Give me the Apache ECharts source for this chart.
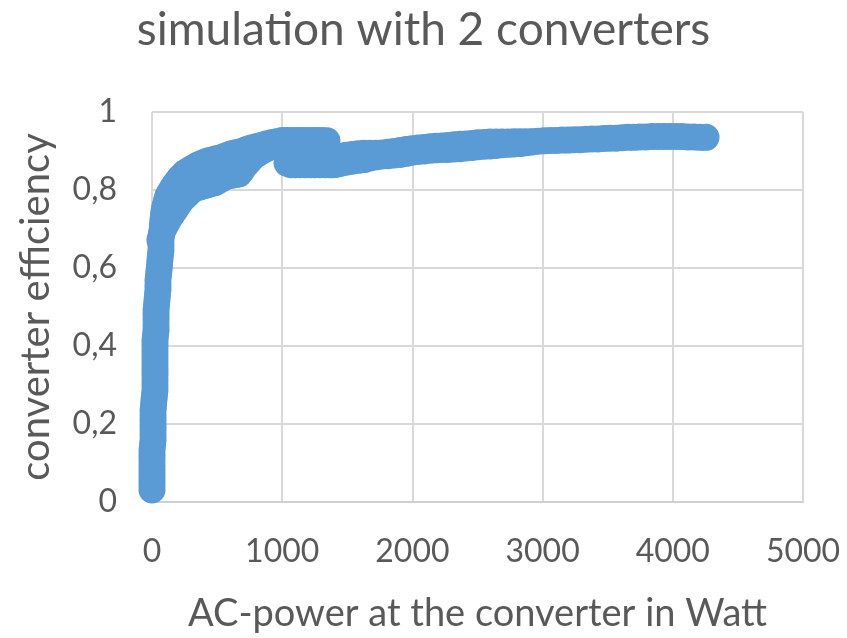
<!DOCTYPE html>
<html><head><meta charset="utf-8">
<script src="https://cdn.jsdelivr.net/npm/echarts@6/dist/echarts.min.js"></script>
<style>html,body{margin:0;padding:0;background:#fff}#chart{width:847px;height:638px}</style>
</head><body><div id="chart"></div>
<script>
// Chart text
const titleText = 'simulation with 2 converters';
const xAxisTitle = 'AC-power at the converter in Watt';
const yAxisTitle = 'converter efficiency';
const xTicks = [0, 1000, 2000, 3000, 4000, 5000];
const yTicks = [0, 0.2, 0.4, 0.6, 0.8, 1];

// [AC power (W), converter efficiency]
const startupPoints = [[0,0.031],[0,0.044],[0,0.056],[0,0.069],[0,0.082],[0,0.095],[0,0.108],[0,0.120],[0,0.133],[4,0.146],[8,0.159],[8,0.172],[8,0.185],[8,0.197],[8,0.210],[8,0.223],[8,0.236],[12,0.249],[15,0.262],[19,0.274],[23,0.287],[23,0.300],[23,0.313],[23,0.326],[23,0.338],[23,0.351],[23,0.364],[23,0.377],[23,0.390],[23,0.403],[23,0.415],[27,0.428],[31,0.441],[31,0.454],[31,0.467],[31,0.480],[31,0.492],[35,0.505],[38,0.518],[42,0.531],[46,0.544],[46,0.556],[46,0.569],[50,0.582],[54,0.595],[58,0.608],[61,0.621],[65,0.634],[69,0.646],[69,0.659],[69,0.672],[73,0.685],[77,0.697]];
const kneeUpper = [[80,0.710],[84,0.723],[88,0.735],[92,0.746],[100,0.757],[108,0.767],[115,0.776],[123,0.785],[138,0.794],[154,0.803],[169,0.811],[184,0.818],[200,0.825],[215,0.831],[234,0.838],[253,0.844],[276,0.849],[300,0.854],[326,0.859],[353,0.864],[380,0.868],[407,0.872],[434,0.875],[461,0.877],[492,0.880],[522,0.882],[553,0.886],[584,0.890],[610,0.893],[637,0.895],[664,0.897],[691,0.899],[725,0.904],[760,0.908],[798,0.911],[837,0.914],[875,0.918],[914,0.921],[956,0.924],[998,0.927],[1037,0.927],[1075,0.927],[1114,0.927],[1152,0.927],[1190,0.927],[1229,0.927],[1267,0.927],[1306,0.927],[1344,0.926]];
const kneeLower = [[61,0.672],[72,0.685],[84,0.697],[96,0.705],[108,0.713],[120,0.720],[131,0.726],[154,0.738],[177,0.749],[200,0.761],[223,0.772],[246,0.780],[269,0.787],[292,0.795],[315,0.803],[342,0.806],[369,0.808],[396,0.811],[422,0.813],[453,0.816],[484,0.819],[507,0.824],[530,0.828],[549,0.832],[568,0.835],[591,0.837],[614,0.838],[641,0.840],[668,0.841],[691,0.851],[714,0.862],[734,0.870],[753,0.877],[768,0.883],[783,0.888],[814,0.894],[845,0.900],[880,0.906],[914,0.912],[941,0.913],[968,0.913]];
const kneeFill = [[100,0.756],[154,0.777],[215,0.792],[1037,0.869]];
const plateauLower = [[1068,0.865],[1103,0.865],[1137,0.865],[1175,0.865],[1213,0.865],[1251,0.865],[1290,0.865],[1328,0.865],[1367,0.865],[1390,0.865],[1417,0.866]];
const tailUpper = [[1444,0.886],[1490,0.889],[1536,0.891],[1582,0.893],[1628,0.894],[1674,0.894],[1720,0.894],[1766,0.895],[1812,0.897],[1858,0.899],[1905,0.901],[1951,0.904],[1997,0.906],[2043,0.908],[2089,0.909],[2135,0.911],[2181,0.912],[2227,0.913],[2273,0.914],[2319,0.916],[2365,0.917],[2411,0.918],[2458,0.919],[2504,0.921],[2550,0.922],[2596,0.923],[2642,0.923],[2688,0.923],[2734,0.923],[2780,0.924],[2826,0.924],[2872,0.924],[2918,0.924],[2964,0.925],[3011,0.926],[3057,0.927],[3103,0.927],[3149,0.928],[3195,0.928],[3241,0.929],[3287,0.929],[3333,0.930],[3379,0.931],[3425,0.931],[3471,0.932],[3517,0.933],[3564,0.933],[3610,0.934],[3656,0.935],[3702,0.935],[3748,0.936],[3794,0.936],[3840,0.937],[3886,0.937],[3932,0.937],[3978,0.937],[4024,0.937],[4070,0.937],[4116,0.936],[4162,0.936],[4209,0.935],[4255,0.935]];
const tailLower = [[1444,0.868],[1490,0.871],[1536,0.874],[1582,0.876],[1628,0.878],[1674,0.882],[1720,0.885],[1766,0.887],[1812,0.888],[1858,0.890],[1905,0.891],[1951,0.894],[1997,0.897],[2043,0.899],[2089,0.900],[2135,0.902],[2181,0.903],[2227,0.904],[2273,0.904],[2319,0.905],[2365,0.906],[2411,0.908],[2458,0.909],[2504,0.911],[2550,0.912],[2596,0.913],[2642,0.914],[2688,0.916],[2734,0.917],[2780,0.918],[2826,0.919],[2872,0.921],[2918,0.923]];

const allPoints = [].concat(startupPoints, kneeUpper, kneeLower, kneeFill, plateauLower, tailUpper, tailLower);

const FONT = 'Lato, "Open Sans", sans-serif';
const TXT = '#595959';
const GRIDC = '#d9d9d9';

const chart = echarts.init(document.getElementById('chart'), null, {renderer: 'canvas'});
chart.setOption({
  animation: false,
  backgroundColor: '#ffffff',
  title: {
    text: titleText, left: 'center', top: 2,
    textStyle: {fontFamily: FONT, fontSize: 46, fontWeight: 'normal', color: TXT}
  },
  grid: {left: 152, right: 44, top: 112, bottom: 136},
  xAxis: {
    type: 'value', min: xTicks[0], max: xTicks[xTicks.length-1], interval: xTicks[1]-xTicks[0],
    name: xAxisTitle, nameLocation: 'middle', nameGap: 93,
    nameTextStyle: {fontFamily: FONT, fontSize: 38, color: TXT},
    axisLine: {show: true, lineStyle: {color: '#d0d0d0', width: 2}},
    axisTick: {show: false},
    axisLabel: {fontFamily: FONT, fontSize: 32, color: TXT, margin: 34, formatter: v => String(v)},
    splitLine: {show: true, lineStyle: {color: GRIDC, width: 2}}
  },
  yAxis: {
    type: 'value', min: yTicks[0], max: yTicks[yTicks.length-1], interval: 0.2,
    name: yAxisTitle, nameLocation: 'middle', nameGap: 96,
    nameTextStyle: {fontFamily: FONT, fontSize: 40, color: TXT},
    axisLine: {show: false},
    axisTick: {show: false},
    axisLabel: {fontFamily: FONT, fontSize: 32, color: TXT, margin: 35,
      formatter: v => String(Math.round(v*10)/10).replace('.', ',')},
    splitLine: {show: true, lineStyle: {color: GRIDC, width: 2}}
  },
  series: [{
    type: 'scatter',
    data: allPoints,
    symbol: 'circle',
    symbolSize: 27,
    clip: false,
    itemStyle: {color: '#5B9BD5', opacity: 1}
  }]
});
</script></body></html>
